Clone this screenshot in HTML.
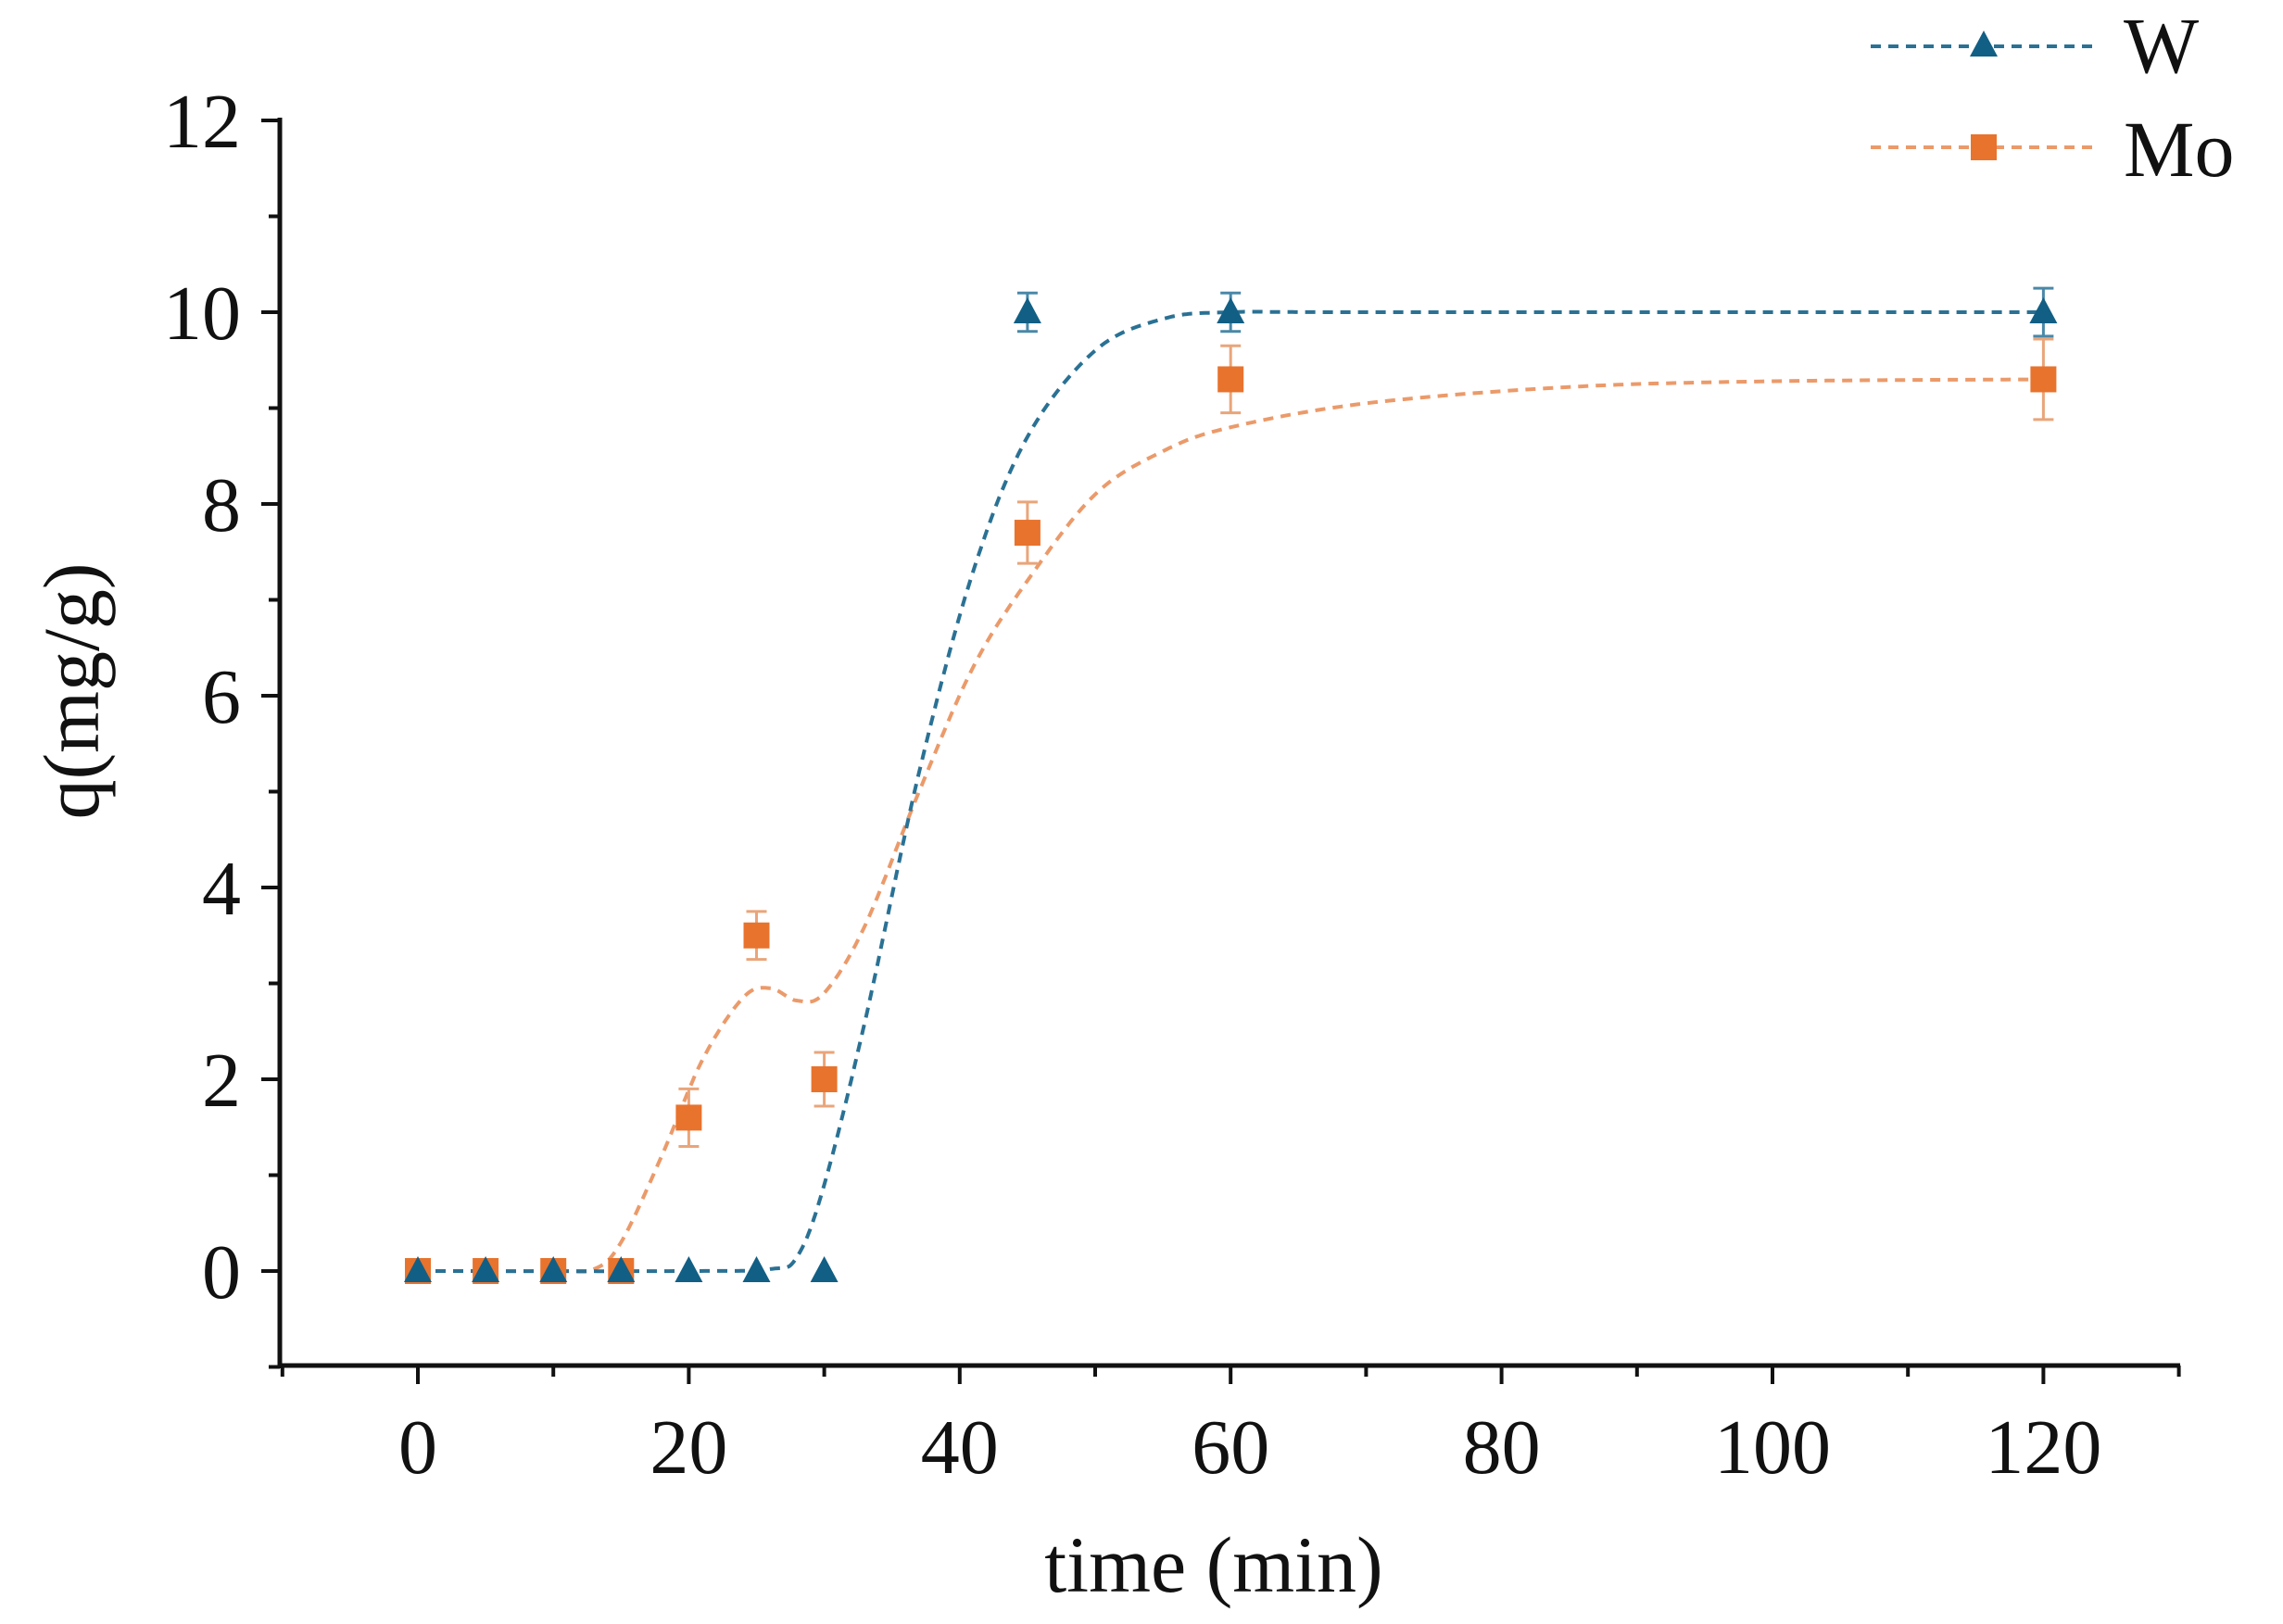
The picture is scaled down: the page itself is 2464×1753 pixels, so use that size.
<!DOCTYPE html>
<html><head><meta charset="utf-8"><style>
html,body{margin:0;padding:0;background:#fff}
svg{display:block}
text{font-family:"Liberation Serif",serif;fill:#111}
</style></head><body>
<svg id="s" width="2464" height="1753" viewBox="0 0 2464 1753" xmlns="http://www.w3.org/2000/svg">
<g stroke="#111" stroke-width="5" fill="none">
<line x1="302" y1="127" x2="302" y2="1477"/>
<line x1="300" y1="1474" x2="2353" y2="1474"/>
</g>
<g id="ticks" stroke="#111" stroke-width="4"></g>
<g id="labels" font-size="84"></g>
<text x="1310" y="1718" font-size="86" text-anchor="middle">time (min)</text>
<text transform="translate(106,746) rotate(-90)" font-size="86" text-anchor="middle">q(mg/g)</text>
<g id="plot"></g>
<line x1="2019" y1="50" x2="2263" y2="50" stroke="#2a7194" stroke-width="4" stroke-dasharray="11,8"/>
<polygon points="2141,33 2126,61 2156,61" fill="#125f85"/>
<text x="2292" y="78" font-size="86">W</text>
<line x1="2019" y1="159" x2="2263" y2="159" stroke="#eb9a6a" stroke-width="4" stroke-dasharray="11,8"/>
<rect x="2127" y="145" width="28" height="28" fill="#e8732d"/>
<text x="2292" y="190" font-size="86">Mo</text>
</svg>
<script>
var NS="http://www.w3.org/2000/svg";
function X(t){return 451+t*14.62}
function Y(q){return 1372-q*103.5}
function el(p,tag,a,txt){var e=document.createElementNS(NS,tag);for(var k in a)e.setAttribute(k,a[k]);if(txt!=null)e.textContent=txt;document.getElementById(p).appendChild(e);return e}
for(var t=-10;t<=130;t+=10){var x=X(t);if(x<302||x>2353)continue;el("ticks","line",{x1:x,y1:1474,x2:x,y2:t%20==0?1494:1486});}
for(var q=-1;q<=12;q++){var y=Y(q);el("ticks","line",{x1:302,y1:y,x2:q%2==0?282:290,y2:y});}
for(var t=0;t<=120;t+=20)el("labels","text",{x:X(t),y:1590,"text-anchor":"middle"},t);
for(var q=0;q<=12;q+=2)el("labels","text",{x:260,y:Y(q)+29,"text-anchor":"end"},q);
function path(pts,color){var d="";for(var i=0;i<pts.length;i++){d+=(i?"L":"M")+X(pts[i][0]).toFixed(1)+","+Y(pts[i][1]).toFixed(1)}
el("plot","path",{d:d,fill:"none",stroke:color,"stroke-width":4,"stroke-dasharray":"11,8"})}
function smooth(k){var o=[];for(var i=0;i<k.length-1;i++){var p0=k[Math.max(0,i-1)],p1=k[i],p2=k[i+1],p3=k[Math.min(k.length-1,i+2)];for(var s=0;s<20;s++){var u=s/20,u2=u*u,u3=u2*u;function c(a,b,cc,d){return 0.5*(2*b+(-a+cc)*u+(2*a-5*b+4*cc-d)*u2+(-a+3*b-3*cc+d)*u3)}o.push([c(p0[0],p1[0],p2[0],p3[0]),c(p0[1],p1[1],p2[1],p3[1])])}}o.push(k[k.length-1]);return o}
var wfit=[[0,0],[20,0],[26,0.02],[28,0.15],[30,0.9],[33,2.6],[37,5.2],[41,7.3],[45,8.7],[50,9.6],[55,9.93],[60,10],[70,10],[120,10]];
var mfit=[[0,0],[10,0],[13,0.02],[15,0.3],[18,1.2],[21,2.2],[24,2.85],[26,2.95],[28,2.82],[30,2.9],[33,3.6],[37,5.0],[41,6.3],[45,7.2],[50,8.1],[55,8.55],[60,8.8],[70,9.05],[85,9.22],[100,9.28],[120,9.3]];
path(smooth(mfit),"#eb9a6a");path(smooth(wfit),"#2a7194");
function eb(t,q,e,c){var x=X(t);el("plot","line",{x1:x,y1:Y(q-e),x2:x,y2:Y(q+e),stroke:c,"stroke-width":3});el("plot","line",{x1:x-11,y1:Y(q-e),x2:x+11,y2:Y(q-e),stroke:c,"stroke-width":3});el("plot","line",{x1:x-11,y1:Y(q+e),x2:x+11,y2:Y(q+e),stroke:c,"stroke-width":3})}
var W=[[0,0],[5,0],[10,0],[15,0],[20,0],[25,0],[30,0],[45,10,0.2],[60,10,0.2],[120,10,0.25]];
var M=[[0,0],[5,0],[10,0],[15,0],[20,1.6,0.3],[25,3.5,0.25],[30,2,0.28],[45,7.7,0.32],[60,9.3,0.35],[120,9.3,0.42]];
M.forEach(function(p){if(p[2])eb(p[0],p[1],p[2],"#e9a57a")});
W.forEach(function(p){if(p[2])eb(p[0],p[1],p[2],"#4a88a8")});
M.forEach(function(p){el("plot","rect",{x:X(p[0])-14,y:Y(p[1])-14,width:28,height:28,fill:"#e8732d"})});
W.forEach(function(p){var x=X(p[0]),y=Y(p[1]);el("plot","polygon",{points:(x)+","+(y-16)+" "+(x-15)+","+(y+12)+" "+(x+15)+","+(y+12),fill:"#125f85"})});
</script>
</body></html>
